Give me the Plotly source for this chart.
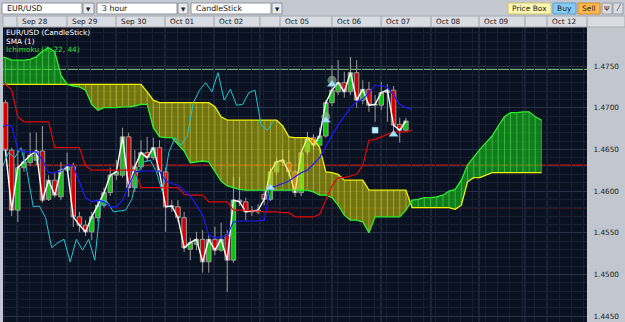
import plotly.graph_objects as go

# ---------------- data (3-hour EUR/USD candles) ----------------
opens = [1.4706, 1.4649, 1.4577, 1.4628, 1.4634, 1.4637, 1.4648, 1.4590, 1.4613, 1.4593,
         1.4625, 1.4629, 1.4569, 1.4559, 1.4551, 1.4568, 1.4583, 1.4598, 1.4619, 1.4619,
         1.4665, 1.4604, 1.4629, 1.4646, 1.4640, 1.4652, 1.4623, 1.4581, 1.4581, 1.4568,
         1.4530, 1.4536, 1.4542, 1.4515, 1.4542, 1.4529, 1.4547, 1.4517, 1.4589, 1.4587,
         1.4575, 1.4575, 1.4596, 1.4590, 1.4623, 1.4635, 1.4634, 1.4623, 1.4598, 1.4647,
         1.4664, 1.4655, 1.4666, 1.4706, 1.4719, 1.4730, 1.4719, 1.4742, 1.4709, 1.4722,
         1.4703, 1.4703, 1.4718, 1.4721, 1.4680, 1.4673]
highs = [1.4709, 1.4652, 1.4649, 1.4649, 1.4670, 1.4670, 1.4678, 1.4619, 1.4623, 1.4635,
         1.4646, 1.4634, 1.4575, 1.4565, 1.4575, 1.4589, 1.4604, 1.4628, 1.4637, 1.4676,
         1.4670, 1.4649, 1.4661, 1.4665, 1.4664, 1.4661, 1.4628, 1.4589, 1.4589, 1.4575,
         1.4544, 1.4551, 1.4553, 1.4547, 1.4557, 1.4562, 1.4553, 1.4617, 1.4617, 1.4592,
         1.4582, 1.4584, 1.4601, 1.4628, 1.4640, 1.4649, 1.4649, 1.4625, 1.4649, 1.4671,
         1.4668, 1.4676, 1.4709, 1.4751, 1.4757, 1.4743, 1.4761, 1.4757, 1.4733, 1.4731,
         1.4715, 1.4731, 1.4728, 1.4726, 1.4688, 1.4688]
lows = [1.4643, 1.4570, 1.4563, 1.4623, 1.4630, 1.4631, 1.4586, 1.4588, 1.4592, 1.4589,
        1.4623, 1.4557, 1.4551, 1.4546, 1.4541, 1.4563, 1.4580, 1.4594, 1.4613, 1.4616,
        1.4593, 1.4599, 1.4625, 1.4635, 1.4637, 1.4619, 1.4551, 1.4575, 1.4563, 1.4527,
        1.4517, 1.4529, 1.4502, 1.4502, 1.4523, 1.4527, 1.4479, 1.4514, 1.4582, 1.4565,
        1.4570, 1.4572, 1.4583, 1.4588, 1.4619, 1.4630, 1.4618, 1.4593, 1.4594, 1.4643,
        1.4649, 1.4649, 1.4664, 1.4702, 1.4715, 1.4712, 1.4715, 1.4700, 1.4704, 1.4695,
        1.4683, 1.4697, 1.4683, 1.4670, 1.4658, 1.4671]
closes = [1.4649, 1.4577, 1.4628, 1.4635, 1.4643, 1.4648, 1.4589, 1.4613, 1.4595, 1.4625,
          1.4629, 1.4569, 1.4559, 1.4551, 1.4569, 1.4583, 1.4598, 1.4619, 1.4623, 1.4665,
          1.4604, 1.4629, 1.4646, 1.4640, 1.4652, 1.4623, 1.4581, 1.4582, 1.4568, 1.4532,
          1.4538, 1.4542, 1.4515, 1.4542, 1.4529, 1.4542, 1.4517, 1.4589, 1.4587, 1.4575,
          1.4576, 1.4577, 1.4590, 1.4623, 1.4635, 1.4637, 1.4623, 1.4598, 1.4646, 1.4664,
          1.4655, 1.4666, 1.4706, 1.4721, 1.4730, 1.4719, 1.4742, 1.4709, 1.4722, 1.4703,
          1.4704, 1.4718, 1.4721, 1.4679, 1.4673, 1.4684]

# Ichimoku (7, 22, 44) lines, one value per bar starting one bar before the first candle
tenkan = [1.4673, 1.4679, 1.4678, 1.4650, 1.4647, 1.4647, 1.4647, 1.4637, 1.4622, 1.4622,
          1.4624, 1.4631, 1.4630, 1.4611, 1.4592, 1.4587, 1.4589, 1.4587, 1.4581, 1.4581,
          1.4589, 1.4607, 1.4623, 1.4624, 1.4624, 1.4624, 1.4624, 1.4612, 1.4609, 1.4607,
          1.4601, 1.4594, 1.4583, 1.4571, 1.4547, 1.4544, 1.4544, 1.4547, 1.4563, 1.4564,
          1.4564, 1.4564, 1.4564, 1.4565, 1.4604, 1.4606, 1.4609, 1.4612, 1.4617, 1.4622,
          1.4625, 1.4632, 1.4640, 1.4653, 1.4667, 1.4679, 1.4690, 1.4700, 1.4707, 1.4710,
          1.4718, 1.4727, 1.4726, 1.4725, 1.4715, 1.4704, 1.4700, 1.4698]
kijun = [1.4731, 1.4728, 1.4721, 1.4689, 1.4683, 1.4683, 1.4683, 1.4683, 1.4683, 1.4652,
         1.4652, 1.4652, 1.4652, 1.4652, 1.4630, 1.4625, 1.4625, 1.4625, 1.4625, 1.4625,
         1.4625, 1.4625, 1.4625, 1.4604, 1.4604, 1.4604, 1.4604, 1.4604, 1.4604, 1.4604,
         1.4596, 1.4595, 1.4595, 1.4595, 1.4587, 1.4587, 1.4587, 1.4587, 1.4577, 1.4577,
         1.4577, 1.4576, 1.4576, 1.4575, 1.4575, 1.4575, 1.4574, 1.4574, 1.4569, 1.4569,
         1.4569, 1.4569, 1.4572, 1.4589, 1.4606, 1.4616, 1.4616, 1.4618, 1.4620, 1.4631,
         1.4661, 1.4662, 1.4665, 1.4668, 1.4671, 1.4671, 1.4671, 1.4673]
senkou_a = [1.4761, 1.4760, 1.4757, 1.4757, 1.4757, 1.4758, 1.4761, 1.4768, 1.4772, 1.4767,
            1.4739, 1.4728, 1.4726, 1.4725, 1.4721, 1.4704, 1.4697, 1.4700, 1.4700, 1.4700,
            1.4701, 1.4701, 1.4702, 1.4704, 1.4704, 1.4676, 1.4665, 1.4664, 1.4664, 1.4656,
            1.4648, 1.4634, 1.4635, 1.4636, 1.4635, 1.4624, 1.4612, 1.4606, 1.4604, 1.4602,
            1.4601, 1.4601, 1.4601, 1.4601, 1.4601, 1.4601, 1.4601, 1.4601, 1.4601, 1.4601,
            1.4601, 1.4599, 1.4595, 1.4595, 1.4592, 1.4583, 1.4571, 1.4565, 1.4565, 1.4563,
            1.4550, 1.4569, 1.4569, 1.4569, 1.4569, 1.4569, 1.4577, 1.4589, 1.4590, 1.4592,
            1.4592, 1.4593, 1.4595, 1.4600, 1.4602, 1.4613, 1.4631, 1.4641, 1.4650, 1.4658,
            1.4666, 1.4678, 1.4689, 1.4694, 1.4694, 1.4695, 1.4695, 1.4689, 1.4685]
senkou_b = [1.4728, 1.4728, 1.4728, 1.4728, 1.4728, 1.4728, 1.4728, 1.4728, 1.4728, 1.4728,
            1.4728, 1.4728, 1.4728, 1.4728, 1.4728, 1.4728, 1.4728, 1.4728, 1.4728, 1.4728,
            1.4728, 1.4728, 1.4728, 1.4728, 1.4719, 1.4709, 1.4706, 1.4706, 1.4706, 1.4706,
            1.4706, 1.4706, 1.4706, 1.4706, 1.4706, 1.4701, 1.4689, 1.4685, 1.4685, 1.4685,
            1.4685, 1.4685, 1.4685, 1.4685, 1.4685, 1.4685, 1.4678, 1.4665, 1.4664, 1.4664,
            1.4664, 1.4662, 1.4652, 1.4623, 1.4622, 1.4620, 1.4613, 1.4613, 1.4613, 1.4613,
            1.4601, 1.4601, 1.4601, 1.4601, 1.4601, 1.4601, 1.4601, 1.4580, 1.4580, 1.4580,
            1.4580, 1.4580, 1.4580, 1.4580, 1.4578, 1.4583, 1.4611, 1.4616, 1.4616, 1.4619,
            1.4622, 1.4622, 1.4622, 1.4622, 1.4622, 1.4622, 1.4622, 1.4622, 1.4622]

level_green = 1.4746
levels_red = [1.4631, 1.4580]

triangle_bar = [43, 52, 53, 63]
triangle_price = [1.4604, 1.4685, 1.4728, 1.4668]
circle_bar = [52, 53]
circle_price = [1.4689, 1.4733]
square_bar = [60]
square_price = [1.4673]

price_ticks = [1.4450, 1.4500, 1.4550, 1.4600, 1.4650, 1.4700, 1.4750]
day_labels = ["Sep 28", "Sep 29", "Sep 30", "Oct 01", "Oct 02", "", "Oct 05",
              "Oct 06", "Oct 07", "Oct 08", "Oct 09", "", "Oct 12"]
day_starts = [1.87, 9.98, 17.94, 25.89, 33.85, 41.3, 44.56, 53.0, 60.97, 69.08,
              76.87, 84.33, 87.9]

# ---------------- layout geometry ----------------
W, H = 625, 322
ML, MR, MT, MB = 3, 38, 27, 0
PW, PH = W - ML - MR, H - MT - MB
XR = [-0.406, 94.40]
YR = [1.44428, 1.47968]
FONT = "DejaVu Sans"


def pxp(px):
    return (px - ML) / PW


def pyp(py):
    return 1 - (py - MT) / PH


def xv2p(xv):
    return (xv - XR[0]) / (XR[1] - XR[0])


bars = list(range(len(closes)))
ich_x = list(range(-1, -1 + len(tenkan)))
cloud_x = list(range(-1, -1 + len(senkou_a)))
chikou_shift = 22
chikou_x = [k - chikou_shift + 0.5 for k in bars]

fig = go.Figure()

fig.add_trace(go.Candlestick(
    x=bars, open=opens, high=highs, low=lows, close=closes,
    increasing=dict(line=dict(color="#9a9a9a", width=1), fillcolor="#12c412"),
    decreasing=dict(line=dict(color="#9a9a9a", width=1), fillcolor="#d40000"),
    whiskerwidth=0, hoverinfo="skip", showlegend=False))

fig.add_trace(go.Scatter(x=bars, y=closes, mode="lines",
                         line=dict(color="#ffffff", width=1.4), hoverinfo="skip"))

# ---- cloud regions (split where the spans cross) ----
regions = []
rx, ra, rb = [], [], []
cur = None
for i, (xv, av, bv) in enumerate(zip(cloud_x, senkou_a, senkou_b)):
    d = av - bv
    s = (d > 0) - (d < 0)
    if s != 0 and cur is not None and s != cur:
        dp = senkou_a[i - 1] - senkou_b[i - 1]
        if dp != 0:
            t = dp / (dp - d)
            xi = cloud_x[i - 1] + t * (xv - cloud_x[i - 1])
            yi = senkou_a[i - 1] + t * (av - senkou_a[i - 1])
            rx.append(xi); ra.append(yi); rb.append(yi)
        else:
            xi, yi = cloud_x[i - 1], senkou_a[i - 1]
        regions.append((cur, rx, ra, rb))
        rx, ra, rb = [xi], [yi], [yi]
    if s != 0:
        cur = s
    rx.append(xv); ra.append(av); rb.append(bv)
regions.append((cur, rx, ra, rb))

poly = {1: ([], []), -1: ([], [])}
for sgn, xs, ta, tb in regions:
    px_, py_ = poly[sgn]
    px_ += xs + xs[::-1] + [xs[0], None]
    py_ += ta + tb[::-1] + [ta[0], None]

fills = {1: "rgba(20,215,20,0.55)", -1: "rgba(215,215,0,0.50)"}
stripe_cols = {1: "rgba(110,240,110,0.45)", -1: "rgba(240,240,90,0.40)"}
for sgn in (1, -1):
    fig.add_trace(go.Scatter(x=poly[sgn][0], y=poly[sgn][1], mode="lines",
                             fill="toself", fillcolor=fills[sgn],
                             line=dict(width=0), hoverinfo="skip"))
    sx, sy = [], []
    for xv, av, bv in zip(cloud_x, senkou_a, senkou_b):
        if (av - bv) * sgn > 0:
            sx += [xv, xv, None]
            sy += [av, bv, None]
    fig.add_trace(go.Scatter(x=sx, y=sy, mode="lines",
                             line=dict(color=stripe_cols[sgn], width=1), hoverinfo="skip"))

fig.add_trace(go.Scatter(x=cloud_x, y=senkou_b, mode="lines",
                         line=dict(color="#f2f200", width=1.3), hoverinfo="skip"))
fig.add_trace(go.Scatter(x=cloud_x, y=senkou_a, mode="lines",
                         line=dict(color="#2cf02c", width=1.3), hoverinfo="skip"))

# ---- Ichimoku lines ----
fig.add_trace(go.Scatter(x=chikou_x, y=closes, mode="lines",
                         line=dict(color="#1ec8d6", width=1), hoverinfo="skip"))
fig.add_trace(go.Scatter(x=ich_x, y=kijun, mode="lines",
                         line=dict(color="#e00808", width=1.2), hoverinfo="skip"))
fig.add_trace(go.Scatter(x=ich_x, y=tenkan, mode="lines",
                         line=dict(color="#1a1aff", width=1.2), hoverinfo="skip"))

# ---- signal markers ----
fig.add_trace(go.Scatter(x=circle_bar, y=circle_price, mode="markers",
                         marker=dict(symbol="circle", size=9, color="rgba(150,185,150,0.6)",
                                     line=dict(width=0)), hoverinfo="skip"))
fig.add_trace(go.Scatter(x=triangle_bar, y=triangle_price, mode="markers",
                         marker=dict(symbol="triangle-up", size=8, color="#a6e4fb",
                                     line=dict(color="#6aaccc", width=0.5)), hoverinfo="skip"))
fig.add_trace(go.Scatter(x=square_bar, y=square_price, mode="markers",
                         marker=dict(symbol="square", size=6, color="#bdeeff",
                                     line=dict(color="#7ab8d0", width=0.5)), hoverinfo="skip"))

# ---------------- shapes / chrome ----------------
shapes = []
for lv in levels_red:
    shapes.append(dict(type="line", xref="paper", yref="y", x0=0, x1=1, y0=lv, y1=lv,
                       line=dict(color="#b81c1c", width=1.2), layer="below"))
shapes.append(dict(type="line", xref="paper", yref="y", x0=0, x1=1, y0=level_green,
                   y1=level_green, line=dict(color="#86c886", width=1), layer="below"))
# brighter day separators inside the plot
for xv in day_starts:
    shapes.append(dict(type="line", xref="x", yref="paper", x0=xv, x1=xv, y0=0, y1=1,
                       line=dict(color="#2c364c", width=1), layer="below"))


def rect(x0, y0, x1, y1, fill, line=None, lw=1):
    shapes.append(dict(type="rect", xref="paper", yref="paper",
                       x0=pxp(x0), x1=pxp(x1), y0=pyp(y1), y1=pyp(y0),
                       fillcolor=fill, line=dict(color=line or fill, width=lw if line else 0),
                       layer="above"))


def vline(px, y0, y1, color):
    shapes.append(dict(type="line", xref="paper", yref="paper", x0=pxp(px), x1=pxp(px),
                       y0=pyp(y1), y1=pyp(y0), line=dict(color=color, width=1), layer="above"))


# toolbar
rect(0, 0, W, 16, "#c4c8d0")
# header row
rect(3, 16, W, 27, "#d9dce2", "#a6abb3")
header_seps = [xv2p(v) * PW + ML for v in day_starts] + [ML + PW]
for sx in header_seps:
    vline(sx, 16, 27, "#9ea3ac")

annotations = []


def text(px, py, s, size=7.3, color="#1a1a1a", anchor="left"):
    annotations.append(dict(x=pxp(px), y=pyp(py), xref="paper", yref="paper", text=s,
                            showarrow=False, xanchor=anchor, yanchor="middle",
                            font=dict(family=FONT, size=size, color=color)))


for lab, sx in zip(day_labels, header_seps[:-1]):
    if lab:
        text(sx + 3, 21.8, lab)

# dropdowns
for (bx0, bx1, ax1, lab) in [(2, 82, 94, "EUR/USD"), (97, 177, 188, "3 hour"),
                             (191, 271, 282, "CandleStick")]:
    rect(bx0, 3, bx1, 14, "#ffffff", "#8c9199")
    rect(bx1 + 1, 3, ax1, 14, "#e9ebef", "#8c9199")
    text(bx0 + 3, 8.8, lab, size=7.8, color="#111111")
    text((bx1 + 1 + ax1) / 2, 9, "▼", size=5.5, color="#222222", anchor="center")

# buttons
rect(508, 3, 551, 14, "#fff8b4", "#cdbf70")
text(529.5, 8.8, "Price Box", size=7.5, color="#222222", anchor="center")
rect(553, 3, 576, 14, "#84ccf6", "#5a9ccc")
text(564.5, 8.8, "Buy", size=7.5, color="#222222", anchor="center")
rect(578, 3, 600, 14, "#ffb94e", "#d08a20")
text(589, 8.8, "Sell", size=7.5, color="#222222", anchor="center")
rect(602, 3, 612, 14, "#dadce0", "#9a9ea6")
text(607, 8.8, "Ψ", size=7, color="#333333", anchor="center")
rect(613, 3, 623, 14, "#dadce0", "#9a9ea6")
text(618, 8.8, "⁄", size=8, color="#333333", anchor="center")

# indicator legend at top-left of the plot
text(4, 32.5, "EUR/USD (CandleStick)", color="#ffffff")
text(4, 41, "SMA (1)", color="#ffffff")
text(4, 49.5, "Ichimoku (7, 22, 44)", color="#3ce03c")

fig.update_layout(
    width=W, height=H, margin=dict(l=ML, r=MR, t=MT, b=MB, pad=0),
    paper_bgcolor="#c2c6ce", plot_bgcolor="#0a1120", showlegend=False,
    boxgap=0.27, boxgroupgap=0,
    xaxis=dict(range=XR, showticklabels=False, ticks="", tickmode="array",
               tickvals=day_starts, showgrid=False, zeroline=False,
               rangeslider=dict(visible=False), fixedrange=True,
               minor=dict(tickmode="linear", tick0=1.87, dtick=2, showgrid=True,
                          gridcolor="#172033", ticks="")),
    yaxis=dict(range=YR, side="right", tickmode="array", tickvals=price_ticks,
               ticktext=[f"{v:.4f}" for v in price_ticks],
               tickfont=dict(family=FONT, size=7.3, color="#1e1e1e"),
               ticks="outside", ticklen=4, tickcolor="#c2c6ce",
               showgrid=True, gridcolor="#283247", zeroline=False, fixedrange=True,
               minor=dict(tickmode="linear", tick0=1.445, dtick=0.001, showgrid=True,
                          gridcolor="#172033", ticks="")),
    shapes=shapes, annotations=annotations,
)

fig.write_html("out.html")
